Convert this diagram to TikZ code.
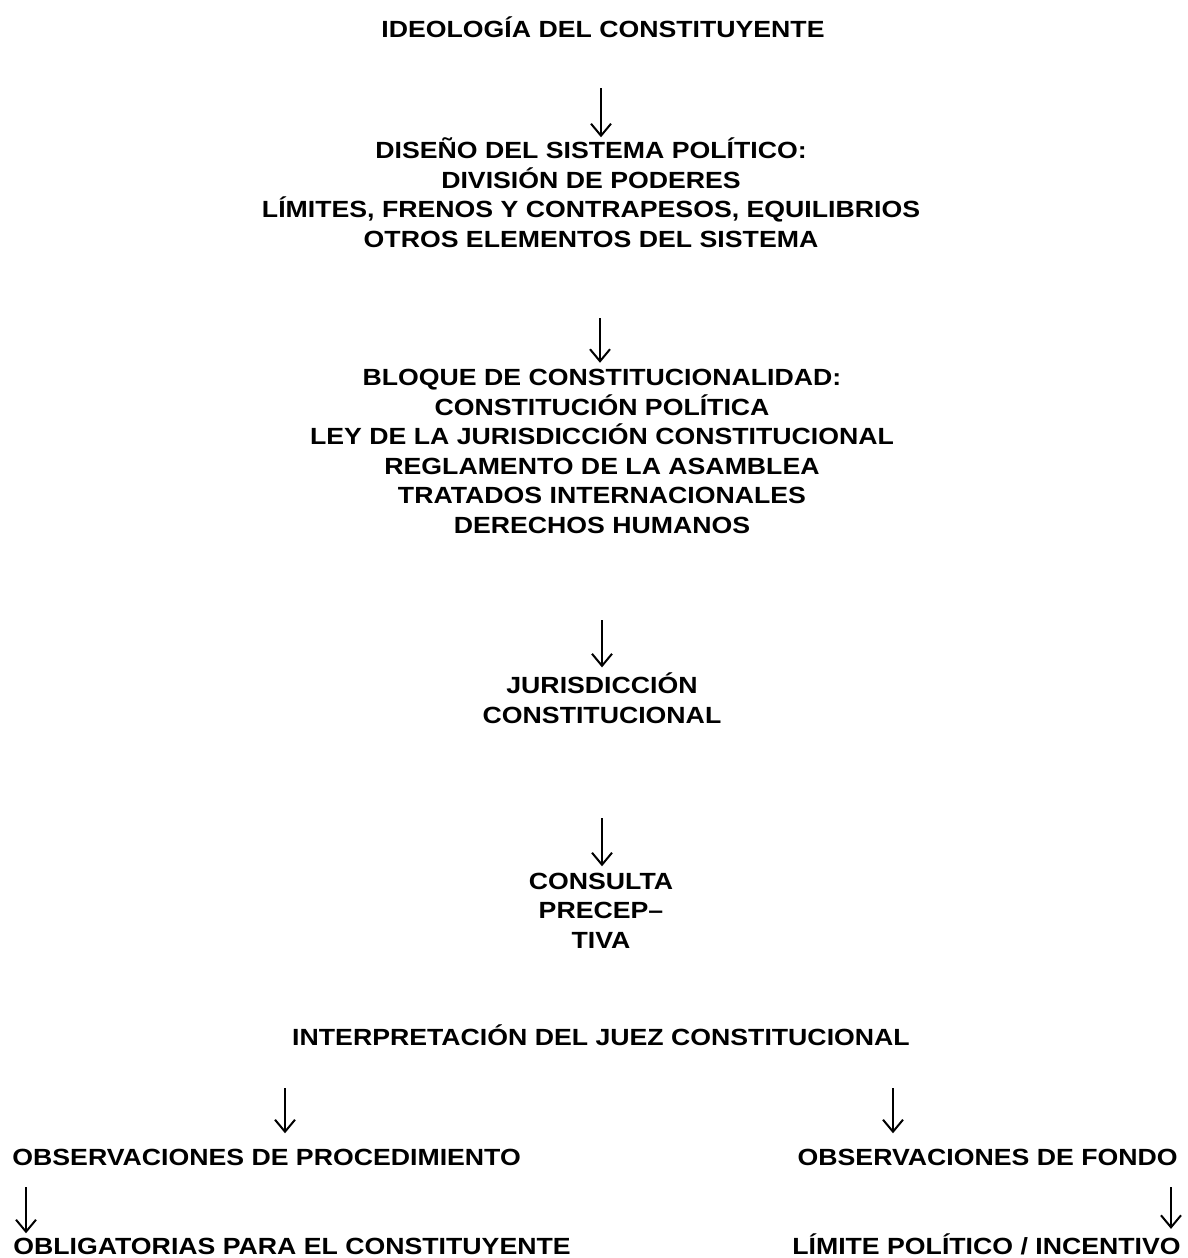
\documentclass[tikz,border=0pt]{standalone}
\usepackage{fontspec}
\setmainfont[FakeStretch=1.14]{Liberation Sans}
\usetikzlibrary{arrows.meta}

\begin{document}
\begin{tikzpicture}[x=0.5pt, y=-0.5pt]

\tikzset{textblock/.style={inner sep=0pt, align=center, anchor=base, font=\fontsize{11.7}{14.75}\selectfont\bfseries}}
\tikzset{downarrow/.style={-{Straight Barb[length=6pt, width=10pt]}, line width=1pt}}

\useasboundingbox (0,0) rectangle (1188,1258);

% central chain of blocks (base = last line)
\node[textblock] at (603, 38) (ideologia) {IDEOLOGÍA DEL CONSTITUYENTE};
\node[textblock] at (591, 247) (diseno) {DISEÑO DEL SISTEMA POLÍTICO:\\DIVISIÓN DE PODERES\\LÍMITES, FRENOS Y CONTRAPESOS, EQUILIBRIOS\\OTROS ELEMENTOS DEL SISTEMA};
\node[textblock] at (602, 533) (bloque) {BLOQUE DE CONSTITUCIONALIDAD:\\CONSTITUCIÓN POLÍTICA\\LEY DE LA JURISDICCIÓN CONSTITUCIONAL\\REGLAMENTO DE LA ASAMBLEA\\TRATADOS INTERNACIONALES\\DERECHOS HUMANOS};
\node[textblock] at (602, 723) (jurisdiccion) {JURISDICCIÓN\\CONSTITUCIONAL};
\node[textblock] at (601, 948) (consulta) {CONSULTA\\PRECEP--\\TIVA};
\node[textblock] at (601, 1045) (interpretacion) {INTERPRETACIÓN DEL JUEZ CONSTITUCIONAL};

% two branches
\node[textblock, anchor=base west] at (12, 1165) (procedimiento) {OBSERVACIONES DE PROCEDIMIENTO};
\node[textblock, anchor=base east] at (1178, 1165) (fondo) {OBSERVACIONES DE FONDO};
\node[textblock, anchor=base west] at (13, 1254) (obligatorias) {OBLIGATORIAS PARA EL CONSTITUYENTE};
\node[textblock, anchor=base east] at (1181, 1254) (limite) {LÍMITE POLÍTICO / INCENTIVO};

% arrow tails
\coordinate (t1) at (601, 88);
\coordinate (t2) at (600, 318);
\coordinate (t3) at (602, 620);
\coordinate (t4) at (602, 818);
\coordinate (t5) at (285, 1088);
\coordinate (t6) at (893, 1088);
\coordinate (t7) at (26, 1187);
\coordinate (t8) at (1171, 1187);

% arrows
\draw[downarrow] (t1) -- (t1 |- diseno.north);
\draw[downarrow, shorten >=3pt] (t2) -- (t2 |- bloque.north);
\draw[downarrow, shorten >=2.5pt] (t3) -- (t3 |- jurisdiccion.north);
\draw[downarrow, shorten >=3pt] (t4) -- (t4 |- consulta.north);
\draw[downarrow, shorten >=7.5pt] (t5) -- (t5 |- procedimiento.north);
\draw[downarrow, shorten >=7.5pt] (t6) -- (t6 |- fondo.north);
\draw[downarrow, shorten >=2pt] (t7) -- (t7 |- obligatorias.north);
\draw[downarrow, shorten >=2pt] (t8) -- (t8 |- limite.north);

\end{tikzpicture}
\end{document}
